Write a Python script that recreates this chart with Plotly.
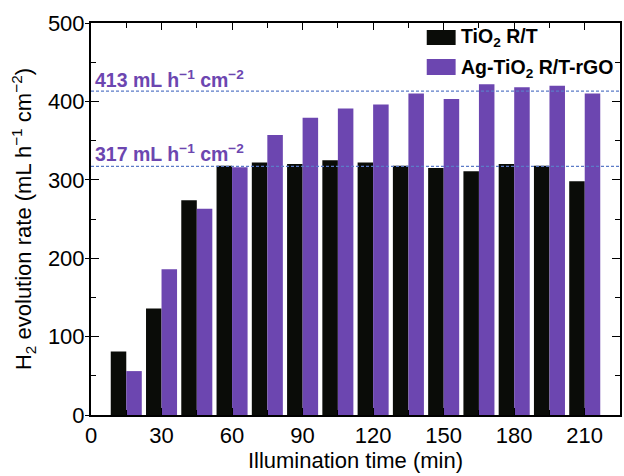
import plotly.graph_objects as go

time_min = [15, 30, 45, 60, 75, 90, 105, 120, 135, 150, 165, 180, 195, 210]
tio2_rt = [81, 136, 274, 318, 322, 320, 325, 322, 318, 315, 311, 320, 318, 298]
ag_tio2_rgo = [56, 186, 263, 316, 357, 379, 391, 396, 410, 403, 422, 418, 420, 410]
ref_lines = [413, 317]
ref_labels = ["413 mL h<sup>−1</sup> cm<sup>−2</sup>", "317 mL h<sup>−1</sup> cm<sup>−2</sup>"]
series_names = ["TiO<sub>2</sub> R/T", "Ag-TiO<sub>2</sub> R/T-rGO"]
x_ticks = [0, 30, 60, 90, 120, 150, 180, 210]
x_minor = [15, 45, 75, 105, 135, 165, 195, 225]
y_ticks = [0, 100, 200, 300, 400, 500]
y_minor = [50, 150, 250, 350, 450]

BLACK = "#0a0c08"
PURPLE = "#6c46b0"
DASH = "#5b7bc8"
FONT = "Arial, Liberation Sans, sans-serif"

fig = go.Figure()
fig.add_trace(go.Bar(x=time_min, y=tio2_rt, name=series_names[0],
                     marker=dict(color=BLACK, line=dict(width=0))))
fig.add_trace(go.Bar(x=time_min, y=ag_tio2_rgo, name=series_names[1],
                     marker=dict(color=PURPLE, line=dict(width=0))))
# empty trace so the overlay axis (outer half of crossing y ticks) is drawn
fig.add_trace(go.Scatter(x=[], y=[], yaxis="y2", showlegend=False, hoverinfo="skip"))

for v in ref_lines:
    fig.add_shape(type="line", xref="paper", x0=0, x1=1, yref="y", y0=v, y1=v,
                  line=dict(color=DASH, width=1.2, dash="3px,2px"), layer="above")

# Pixel helpers for plot area (91..622 x, 23..415 y)
L, R, T, B = 91, 622, 23, 415
def px(x):
    return (x - L) / (R - L)
def py(y):
    return (B - y) / (B - T)

label_y = [79, 153]
for txt, yy in zip(ref_labels, label_y):
    fig.add_annotation(text=txt, xref="paper", yref="paper", x=px(93), y=py(yy),
                       xanchor="left", yanchor="middle", showarrow=False,
                       font=dict(family=FONT, size=19.5, color=PURPLE, weight="bold"))

# manual legend
legend_boxes = [(30, 45, BLACK), (59, 75, PURPLE)]
legend_text_y = [38, 68]
for (y0, y1, c), name, ty in zip(legend_boxes, series_names, legend_text_y):
    fig.add_shape(type="rect", xref="paper", yref="paper", x0=px(428), x1=px(457),
                  y0=py(y1), y1=py(y0), fillcolor=c, line=dict(width=0))
    fig.add_annotation(text=name, xref="paper", yref="paper", x=px(460), y=py(ty),
                       xanchor="left", yanchor="middle", showarrow=False,
                       font=dict(family=FONT, size=19.5, color="black", weight="bold"))

tickfont = dict(family=FONT, size=22, color="black")
titlefont = dict(family=FONT, size=22, color="black")

fig.update_layout(
    width=624, height=476,
    margin=dict(l=L, r=624 - R, t=T, b=476 - B),
    paper_bgcolor="white", plot_bgcolor="white",
    barmode="group", bargap=0.12, bargroupgap=0,
    showlegend=False,
    font=dict(family=FONT, color="black"),
    xaxis=dict(range=[0, 225], tickvals=x_ticks,
               showline=True, linecolor="black", linewidth=2, mirror="ticks",
               ticks="inside", ticklen=7, tickwidth=1.3, tickcolor="black",
               showgrid=False, zeroline=False, tickfont=tickfont,
               minor=dict(tickvals=x_minor, ticks="inside",
                          ticklen=5, tickcolor="black", tickwidth=1.3),
               title=dict(text="Illumination time (min)", standoff=0, font=titlefont)),
    yaxis=dict(range=[0, 500], tickvals=y_ticks,
               showline=True, linecolor="black", linewidth=2, mirror="ticks",
               ticks="inside", ticklen=8, tickwidth=1.3, tickcolor="black",
               showgrid=False, zeroline=False, tickfont=tickfont,
               minor=dict(tickvals=y_minor, ticks="inside",
                          ticklen=5, tickcolor="black", tickwidth=1.3),
               title=dict(text="H<sub>2</sub> evolution rate (mL h<sup>−1</sup> cm<sup>−2</sup>)",
                          standoff=10, font=titlefont)),
    yaxis2=dict(overlaying="y", side="left", range=[0, 500], tickvals=y_ticks,
                showline=False, ticks="outside", ticklen=5, tickwidth=1.3,
                tickcolor="black", showticklabels=False, showgrid=False,
                zeroline=False),
)

fig.write_html("out.html")
